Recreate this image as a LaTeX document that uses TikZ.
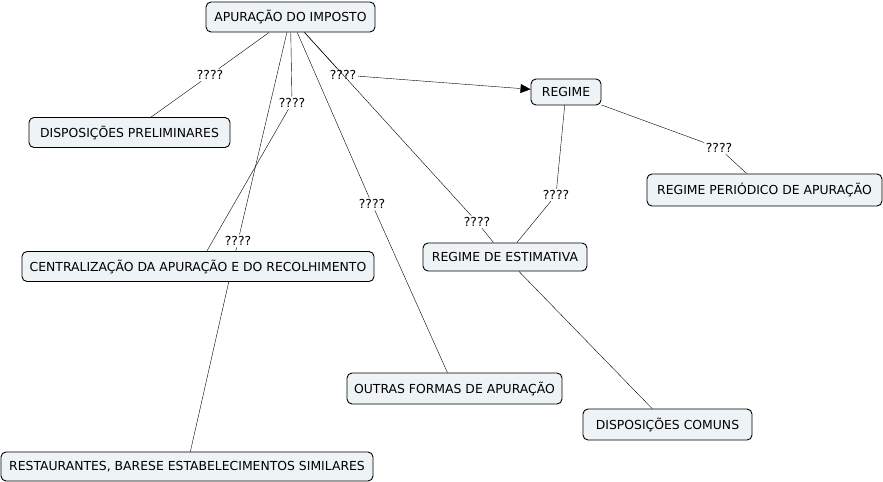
\documentclass[tikz,border=0pt]{standalone}
\usepackage{fontspec}
\setmainfont{DejaVu Sans}
\usetikzlibrary{arrows.meta,backgrounds}
\definecolor{cfill}{RGB}{238,243,246}
\begin{document}
\begin{tikzpicture}[x=1bp,y=-1bp,
  concept/.style={draw,rounded corners=5bp,fill=cfill,line width=0.9bp,
    minimum height=30bp,inner sep=2bp,font=\fontsize{12.4bp}{14bp}\selectfont},
  link/.style={inner sep=1.5bp,font=\fontsize{12.4bp}{14bp}\selectfont}]
\useasboundingbox (0,0) rectangle (883,482);
\node (ap) at (290.5,17) [concept,minimum width=169bp] {APURAÇÃO DO IMPOSTO};
\node (dp) at (129.5,132.5) [concept,minimum width=201bp] {DISPOSIÇÕES PRELIMINARES};
\node (ce) at (198,266.5) [concept,minimum width=352bp] {CENTRALIZAÇÃO DA APURAÇÃO E DO RECOLHIMENTO};
\node (re) at (187,466.5) [concept,minimum width=372bp,minimum height=29bp] {RESTAURANTES, BARESE ESTABELECIMENTOS SIMILARES};
\node (of) at (454.5,388.5) [concept,minimum width=215bp,minimum height=31bp] {OUTRAS FORMAS DE APURAÇÃO};
\node (rg) at (566,92) [concept,minimum width=70bp,minimum height=26bp] {REGIME};
\node (es) at (505,257) [concept,minimum width=164bp,minimum height=28bp] {REGIME DE ESTIMATIVA};
\node (pe) at (764.5,190) [concept,minimum width=235bp,minimum height=32bp] {REGIME PERIÓDICO DE APURAÇÃO};
\node (dc) at (667.5,424.5) [concept,minimum width=169bp,minimum height=31bp] {DISPOSIÇÕES COMUNS};
% linking phrases
\node (l1) at (210,75) [link] {????}; \node (l2) at (292,103) [link] {????};
\node (l3) at (238,241) [link] {????}; \node (l4) at (343,75) [link] {????};
\node (l5) at (372,204) [link] {????}; \node (l6) at (477,222) [link] {????};
\node (l7) at (556,195) [link] {????}; \node (l8) at (719,148) [link] {????};
\begin{scope}[on background layer,line width=1bp]
  \draw (ap) -- (l1); \draw (l1) -- (dp); \draw (ap) -- (l2); \draw (l2) -- (ce);
  \draw (ap) -- (l3); \draw (l3) -- (re); \draw (ap) -- (l5); \draw (l5) -- (of);
  \draw (ap) -- (l4); \draw[-{Triangle[length=10bp,width=9bp]}] (l4) -- (rg);
  \draw (ap) -- (l6); \draw (l6) -- (es); \draw (rg) -- (l7); \draw (l7) -- (es);
  \draw (rg) -- (l8); \draw (l8) -- (pe); \draw (es) -- (dc);
\end{scope}
\end{tikzpicture}
\end{document}
